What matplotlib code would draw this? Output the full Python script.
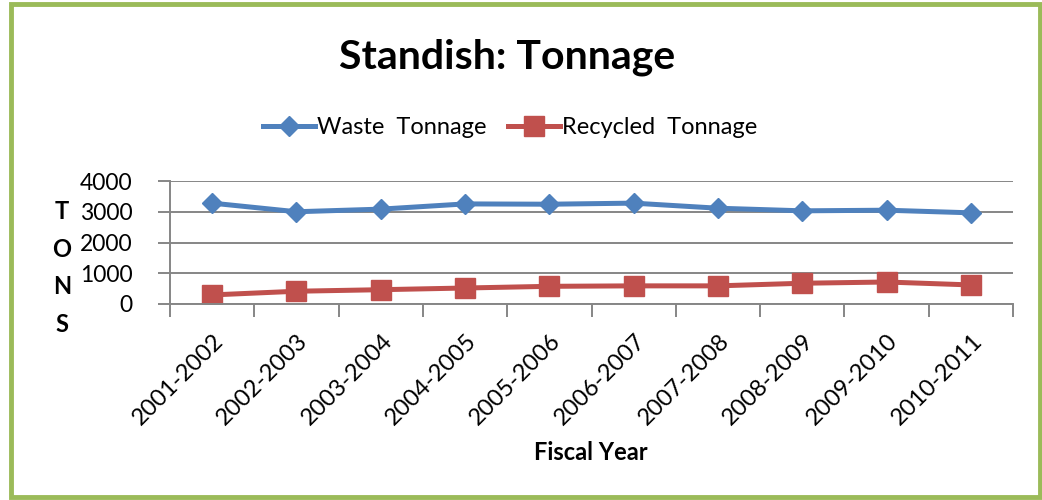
import matplotlib
matplotlib.use("Agg")
import matplotlib.pyplot as plt
from matplotlib.patches import Rectangle

years = ["2001-2002", "2002-2003", "2003-2004", "2004-2005", "2005-2006",
         "2006-2007", "2007-2008", "2008-2009", "2009-2010", "2010-2011"]
waste = [3280, 3000, 3085, 3255, 3245, 3280, 3115, 3030, 3050, 2965]
recycled = [295, 415, 465, 520, 575, 590, 590, 675, 715, 620]
yticks = [0, 1000, 2000, 3000, 4000]

FONT = "Lato"
plt.rcParams["font.family"] = [FONT, "DejaVu Sans"]

fig = plt.figure(figsize=(10.42, 5.0), dpi=100)
W, H = 1042, 500
ax = fig.add_axes([170 / W, 1 - 304 / H, (1013 - 170) / W, (304 - 181) / H])

x = list(range(len(years)))
ax.plot(x, waste, color="#4F81BD", lw=3.6, marker="D", ms=10.5,
        markeredgecolor="#4F81BD", label="Waste  Tonnage", solid_joinstyle="round")
ax.plot(x, recycled, color="#C0504D", lw=3.6, marker="s", ms=14,
        markeredgecolor="#C0504D", label="Recycled  Tonnage", solid_joinstyle="round")

ax.set_xlim(-0.5, len(years) - 0.5)
ax.set_ylim(0, 4000)
ax.set_yticks(yticks)
ax.set_yticklabels([str(v) for v in yticks], fontsize=16.5)
ax.yaxis.grid(True, color="#868686", lw=1.4)
ax.set_axisbelow(True)
for s in ["top", "right"]:
    ax.spines[s].set_visible(False)
for s in ["left", "bottom"]:
    ax.spines[s].set_color("#868686")
    ax.spines[s].set_linewidth(1.4)

# ticks between categories
ax.set_xticks([i - 0.5 for i in range(len(years) + 1)])
ax.set_xticklabels([])
ax.tick_params(axis="x", length=9, width=1.4, color="#868686", direction="out")
ax.tick_params(axis="y", length=9, width=1.4, color="#868686", direction="out", pad=18)

# category labels
for i, lab in enumerate(years):
    ax.annotate(lab, xy=(i, 0), xycoords=("data", "axes fraction"),
                xytext=(8, -34), textcoords="offset pixels",
                rotation=45, rotation_mode="anchor", ha="right", va="center",
                fontsize=17)

# Title, legend, axis labels
fig.text(507.5 / W, 1 - 57 / H, "Standish: Tonnage", ha="center", va="center",
         fontsize=29.5, fontweight="bold")
leg = fig.legend(loc="center", bbox_to_anchor=(510 / W, 1 - 128 / H), ncol=2,
                 frameon=False, fontsize=17, handlelength=2.2, handletextpad=0.1,
                 columnspacing=0.9)
for i, ch in enumerate("TONS"):
    fig.text(62 / W, 1 - (212 + 37.5 * i) / H, ch, ha="center", va="center",
             fontsize=17, fontweight="bold")
fig.text(591 / W, 1 - 452 / H, "Fiscal Year", ha="center", va="center",
         fontsize=17, fontweight="bold")

# green border
fig.patches.append(Rectangle((11 / W, 3 / H), (1040 - 11) / W, (496 - 3) / H,
                             transform=fig.transFigure, fill=False,
                             edgecolor="#9BBB59", lw=3.5))

fig.savefig("out.png", dpi=100)
